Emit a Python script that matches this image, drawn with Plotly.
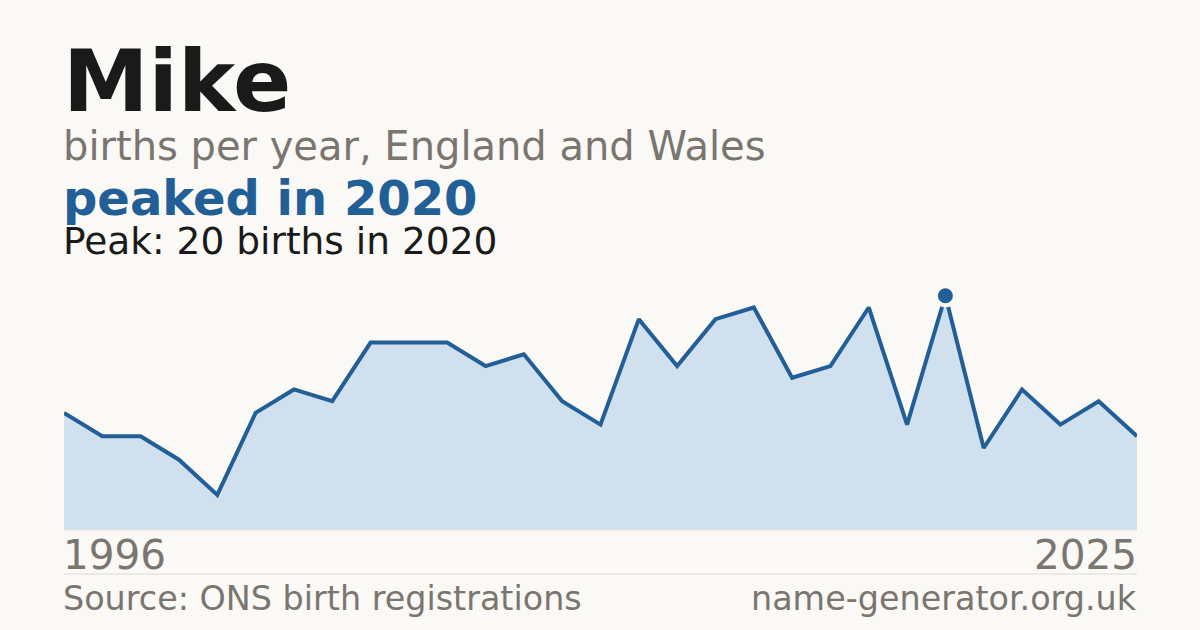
import plotly.graph_objects as go

# births per year (29 plotted points)
years = list(range(1997, 2026))
births = [10, 8, 8, 6, 3, 10, 12, 11, 16, 16, 16, 14, 15, 11, 9,
          18, 14, 18, 19, 13, 14, 19, 9, 20, 7, 12, 9, 11, 8]
tick_labels = ["1996", "2025"]

name = "Mike"
subtitle = "births per year, England and Wales"
headline = "peaked in 2020"
peak_text = "Peak: 20 births in 2020"
source_text = "Source: ONS birth registrations"
site_text = "name-generator.org.uk"

BG = "#faf9f5"
BLUE = "#215f96"
FILL = "#d0e0ef"
GREY = "#7a756e"
DARK = "#1a1a1a"
FONT = "DejaVu Sans"

W, H = 1200, 630
TOP, BOTTOM = 270, 100  # plot area from y=270 to y=530


def py(pix):
    # pixel row -> paper coordinate of the plot area
    return (H - BOTTOM - pix) / (H - TOP - BOTTOM)


idx = list(range(len(years)))
peak_i = births.index(max(births))

fig = go.Figure()
fig.add_trace(go.Scatter(
    x=idx, y=births, mode="lines", fill="tozeroy",
    fillcolor=FILL, line=dict(color=BLUE, width=4),
    hoverinfo="skip",
))
fig.add_trace(go.Scatter(
    x=[idx[peak_i]], y=[births[peak_i]], mode="markers",
    marker=dict(size=19, color=BLUE, line=dict(color=BG, width=4)),
    hoverinfo="skip",
))

fig.update_layout(
    width=W, height=H,
    paper_bgcolor=BG, plot_bgcolor=BG,
    margin=dict(l=64, r=63, t=TOP, b=BOTTOM),
    showlegend=False,
    xaxis=dict(range=[0, len(years) - 1], visible=False, fixedrange=True),
    yaxis=dict(range=[0, 22.2], visible=False, fixedrange=True),
    font=dict(family=FONT),
)

ann = [
    (name, 0, 81.5, 86, DARK, "left", True),
    (subtitle, 0, 146, 40, GREY, "left", False),
    (headline, 0, 197.5, 48, BLUE, "left", True),
    (peak_text, 0, 241, 37.5, DARK, "left", False),
    (tick_labels[0], 0, 555, 40.5, GREY, "left", False),
    (tick_labels[1], 1, 555, 40.5, GREY, "right", False),
    (source_text, 0, 598, 33.4, GREY, "left", False),
    (site_text, 1, 598, 33.4, GREY, "right", False),
]
for text, x, y, size, color, anchor, bold in ann:
    fig.add_annotation(
        text=f"<b>{text}</b>" if bold else text,
        xref="paper", yref="paper", x=x, y=py(y),
        xanchor=anchor, yanchor="middle", showarrow=False,
        xshift=-3 if anchor == "left" else 2,
        font=dict(size=size, color=color, family=FONT),
    )

# baseline under the area and the footer rule
fig.add_shape(type="line", xref="paper", yref="paper", x0=0, x1=1,
              y0=py(530), y1=py(530), line=dict(color="#ece4d6", width=1))
fig.add_shape(type="line", xref="paper", yref="paper", x0=0, x1=1,
              y0=py(574), y1=py(574), line=dict(color="#dedbd4", width=1))

fig.write_html("out.html", config={"displayModeBar": False},
               post_script="document.body.style.margin='0';"
                           "document.body.style.background='%s';" % BG)
